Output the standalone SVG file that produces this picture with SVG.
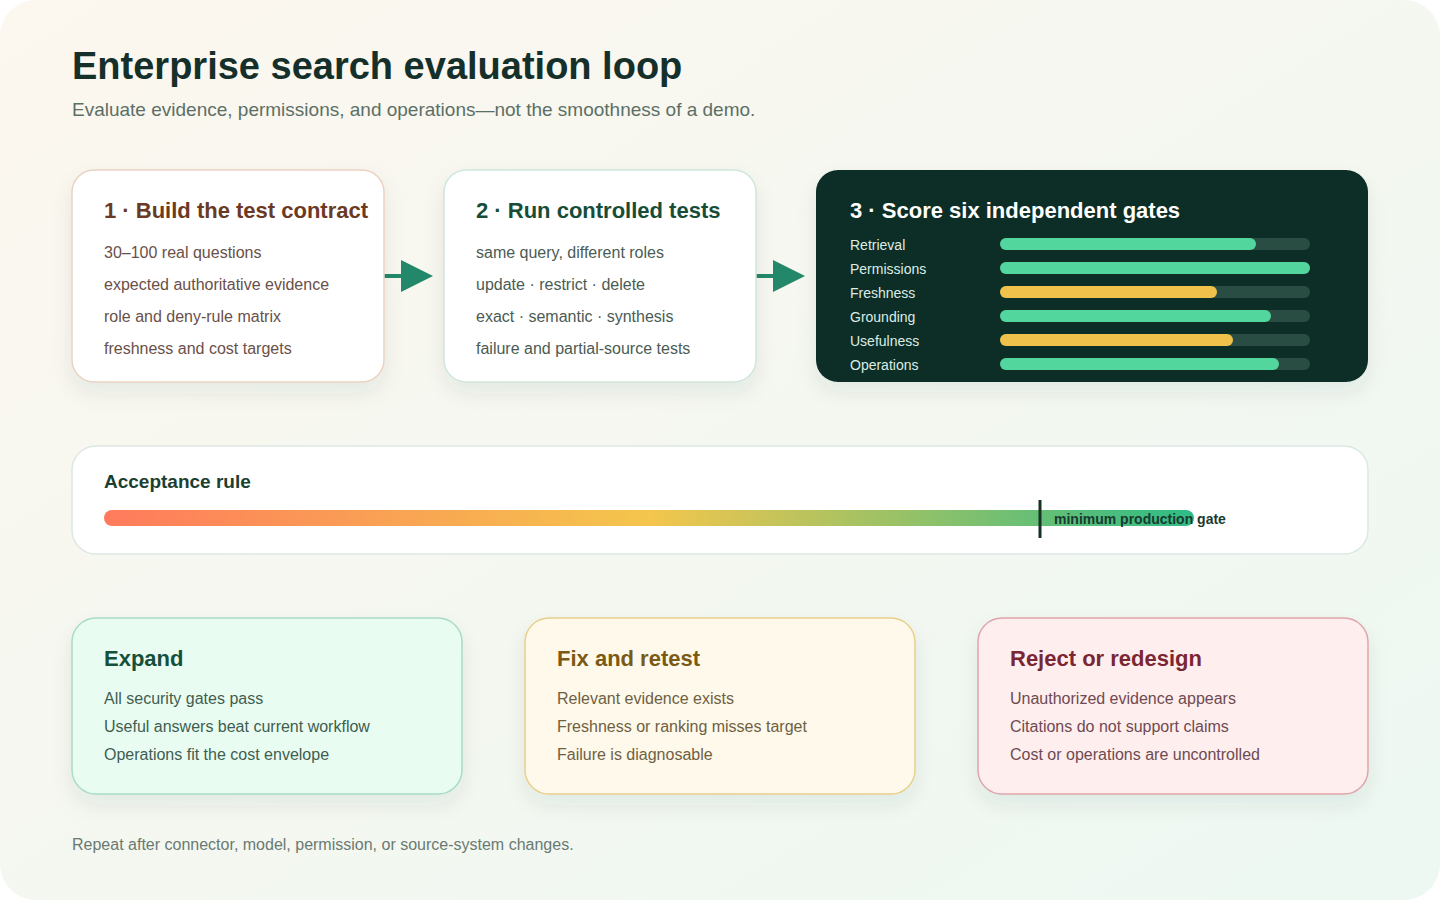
<svg xmlns="http://www.w3.org/2000/svg" width="1440" height="900" viewBox="0 0 1440 900">
<defs>
<linearGradient id="bg" x1="0" y1="0" x2="1" y2="1">
<stop offset="0" stop-color="#fcf7ef"/>
<stop offset="1" stop-color="#edf8f2"/>
</linearGradient>
<linearGradient id="rule" x1="0" y1="0" x2="1" y2="0">
<stop offset="0" stop-color="#ff7a5c"/>
<stop offset="0.5" stop-color="#f4c64c"/>
<stop offset="1" stop-color="#2dbc86"/>
</linearGradient>
<filter id="sh" x="-10%" y="-10%" width="120%" height="135%">
<feDropShadow dx="0" dy="10" stdDeviation="10" flood-color="#2a4a3a" flood-opacity="0.08"/>
</filter>
<marker id="ah" viewBox="0 0 32 32" refX="0" refY="16" markerWidth="32" markerHeight="32" markerUnits="userSpaceOnUse" orient="auto">
<path d="M0,0 L32,16 L0,32 Z" fill="#23886a"/>
</marker>
<style>
text{font-family:"Liberation Sans",Arial,sans-serif}
.h1{font-size:38px;font-weight:700;fill:#15302a}
.sub{font-size:19px;fill:#5c6f66}
.ct{font-size:22px;font-weight:700}
.it{font-size:16px}
.gl{font-size:14px;fill:#dcece5}
.trk{fill:#2a4d43}
.g{fill:#52d69e}
.y{fill:#f0c24c}
.bt{font-size:22px;font-weight:700}
</style>
</defs>
<rect x="0" y="0" width="1440" height="900" fill="#ffffff"/>
<rect x="0" y="0" width="1440" height="900" rx="36" fill="url(#bg)"/>
<text class="h1" x="72" y="79">Enterprise search evaluation loop</text>
<text class="sub" x="72" y="116">Evaluate evidence, permissions, and operations—not the smoothness of a demo.</text>

<g id="connectors">
<line x1="384" y1="276" x2="401" y2="276" stroke="#23886a" stroke-width="4" marker-end="url(#ah)"/>
<line x1="756" y1="276" x2="773" y2="276" stroke="#23886a" stroke-width="4" marker-end="url(#ah)"/>
</g>

<g id="card1">
<rect x="72" y="170" width="312" height="212" rx="22" fill="#ffffff" stroke="#ead2c2" stroke-width="1.5" filter="url(#sh)"/>
<text class="ct" x="104" y="218" fill="#6b3a24">1 · Build the test contract</text>
<g class="it" fill="#6a5048">
<text x="104" y="258">30–100 real questions</text>
<text x="104" y="290">expected authoritative evidence</text>
<text x="104" y="322">role and deny-rule matrix</text>
<text x="104" y="354">freshness and cost targets</text>
</g>
</g>

<g id="card2">
<rect x="444" y="170" width="312" height="212" rx="22" fill="#ffffff" stroke="#cfe5dc" stroke-width="1.5" filter="url(#sh)"/>
<text class="ct" x="476" y="218" fill="#174d38">2 · Run controlled tests</text>
<g class="it" fill="#4b5b54">
<text x="476" y="258">same query, different roles</text>
<text x="476" y="290">update · restrict · delete</text>
<text x="476" y="322">exact · semantic · synthesis</text>
<text x="476" y="354">failure and partial-source tests</text>
</g>
</g>

<g id="card3">
<rect x="816" y="170" width="552" height="212" rx="22" fill="#0d2d25" filter="url(#sh)"/>
<text class="ct" x="850" y="218" fill="#ffffff">3 · Score six independent gates</text>
<text class="gl" x="850" y="250">Retrieval</text>
<text class="gl" x="850" y="274">Permissions</text>
<text class="gl" x="850" y="298">Freshness</text>
<text class="gl" x="850" y="322">Grounding</text>
<text class="gl" x="850" y="346">Usefulness</text>
<text class="gl" x="850" y="370">Operations</text>
<rect class="trk" x="1000" y="238" width="310" height="12" rx="6"/>
<rect class="g" x="1000" y="238" width="256" height="12" rx="6"/>
<rect class="trk" x="1000" y="262" width="310" height="12" rx="6"/>
<rect class="g" x="1000" y="262" width="310" height="12" rx="6"/>
<rect class="trk" x="1000" y="286" width="310" height="12" rx="6"/>
<rect class="y" x="1000" y="286" width="217" height="12" rx="6"/>
<rect class="trk" x="1000" y="310" width="310" height="12" rx="6"/>
<rect class="g" x="1000" y="310" width="271" height="12" rx="6"/>
<rect class="trk" x="1000" y="334" width="310" height="12" rx="6"/>
<rect class="y" x="1000" y="334" width="233" height="12" rx="6"/>
<rect class="trk" x="1000" y="358" width="310" height="12" rx="6"/>
<rect class="g" x="1000" y="358" width="279" height="12" rx="6"/>
</g>

<g id="acceptance">
<rect x="72" y="446" width="1296" height="108" rx="24" fill="#ffffff" stroke="#dde8e3" stroke-width="1.5"/>
<text x="104" y="488" font-size="19" font-weight="700" fill="#1a4032">Acceptance rule</text>
<rect x="104" y="510" width="1090" height="16" rx="8" fill="url(#rule)"/>
<rect x="1038.5" y="500" width="3" height="38" fill="#163326"/>
<text x="1054" y="524" font-size="14" font-weight="700" fill="#1a3a2e">minimum production gate</text>
</g>

<g id="expand">
<rect x="72" y="618" width="390" height="176" rx="24" fill="#e9fcf2" stroke="#a8dcc3" stroke-width="1.5" filter="url(#sh)"/>
<text class="bt" x="104" y="666" fill="#16503a">Expand</text>
<g class="it" fill="#3f5e50">
<text x="104" y="704">All security gates pass</text>
<text x="104" y="732">Useful answers beat current workflow</text>
<text x="104" y="760">Operations fit the cost envelope</text>
</g>
</g>

<g id="fix">
<rect x="525" y="618" width="390" height="176" rx="24" fill="#fef9ea" stroke="#e7d08c" stroke-width="1.5" filter="url(#sh)"/>
<text class="bt" x="557" y="666" fill="#7a5a14">Fix and retest</text>
<g class="it" fill="#6e6143">
<text x="557" y="704">Relevant evidence exists</text>
<text x="557" y="732">Freshness or ranking misses target</text>
<text x="557" y="760">Failure is diagnosable</text>
</g>
</g>

<g id="reject">
<rect x="978" y="618" width="390" height="176" rx="24" fill="#ffeeee" stroke="#dfa5ab" stroke-width="1.5" filter="url(#sh)"/>
<text class="bt" x="1010" y="666" fill="#7a2634">Reject or redesign</text>
<g class="it" fill="#6e4a52">
<text x="1010" y="704">Unauthorized evidence appears</text>
<text x="1010" y="732">Citations do not support claims</text>
<text x="1010" y="760">Cost or operations are uncontrolled</text>
</g>
</g>

<text x="72" y="850" font-size="16" fill="#6a7a72">Repeat after connector, model, permission, or source-system changes.</text>
</svg>
